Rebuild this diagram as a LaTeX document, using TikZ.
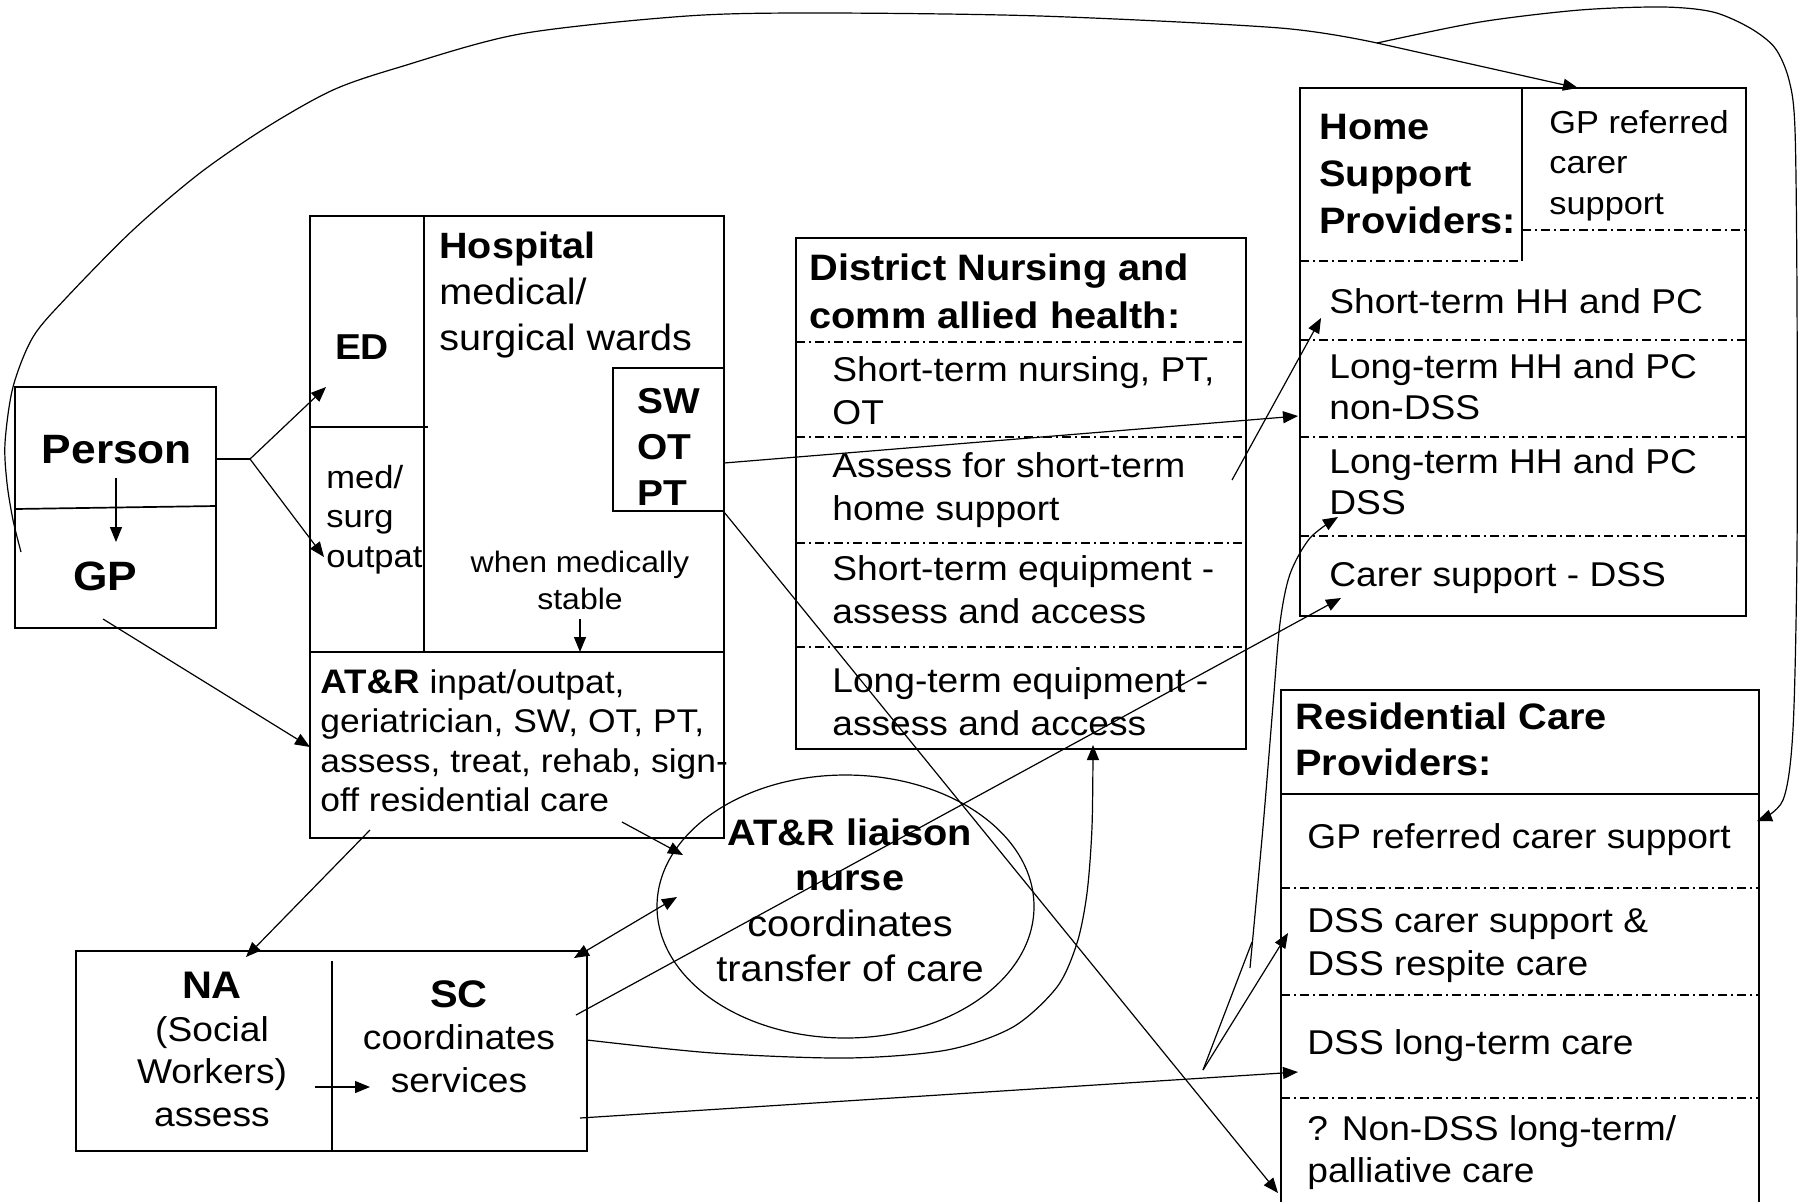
\documentclass[tikz,border=0pt]{standalone}
\usepackage{fontspec}
\setmainfont{Liberation Sans}[FakeStretch=1.08]
\usetikzlibrary{arrows.meta}
\newcommand\mystrut{\rule{0pt}{0.75em}}
\newcommand\fsz[2]{\fontsize{#1}{#2}\selectfont}
\begin{document}
\begin{tikzpicture}[x=0.5pt,y=-0.5pt,
  box/.style={draw,line width=0.85pt},
  dd/.style={line width=0.6pt,dash pattern=on 4.5pt off 2pt on 1pt off 2pt},
  lin/.style={line width=0.6pt},
  con/.style={line width=0.6pt,-{Triangle[length=7.5pt,width=6pt]}},
  dcon/.style={line width=0.6pt,{Triangle[length=7.5pt,width=6pt]}-{Triangle[length=7.5pt,width=6pt]}},
  txt/.style={inner sep=0pt,align=left,anchor=north west},
  ctxt/.style={inner sep=0pt,align=center,anchor=north},
  lbl/.style={inner sep=0pt,anchor=base},
]
\useasboundingbox (0,0) rectangle (1798,1201);

% ---------- boxes ----------
% Person / GP
\draw[box] (15,387) rectangle (216,628);
\draw[box] (15,509) -- (216,506);
% Hospital
\draw[box] (310,216) rectangle (724,838);
\draw[box] (424,216) -- (424,652);
\draw[box] (310,427) -- (428,427);
\draw[box] (310,652) -- (724,652);
\draw[box] (724,368) -- (613,368) -- (613,511) -- (724,511);
% District nursing
\draw[box] (796,238) rectangle (1246,749);
\foreach \yy in {342,437,543,647} \draw[dd] (796,\yy) -- (1246,\yy);
% Home support
\draw[box] (1300,88) rectangle (1746,616);
\draw[box] (1522,88) -- (1522,261);
\draw[dd] (1522,230) -- (1746,230);
\draw[dd] (1300,261) -- (1522,261);
\foreach \yy in {340,437,536} \draw[dd] (1300,\yy) -- (1746,\yy);
% Residential care
\draw[box] (1281,1210) -- (1281,690) -- (1759,690) -- (1759,1210);
\draw[box] (1281,794) -- (1759,794);
\foreach \yy in {888,995,1098} \draw[dd] (1281,\yy) -- (1759,\yy);
% NA / SC
\draw[box] (76,951) rectangle (587,1151);
\draw[box] (332,961) -- (332,1151);
% liaison ellipse
\draw[lin] (845.5,906.5) ellipse [x radius=94.25pt, y radius=65.75pt];

% ---------- texts ----------
\node[lbl,font=\bfseries\fsz{20.5}{24}] (person) at (117,463) {Person};
\node[lbl,font=\bfseries\fsz{20.5}{24}] (gp) at (105,590) {GP};
\node[lbl,font=\bfseries\fsz{18}{22}] (ed) at (362,359) {ED};
\node[txt,font=\fsz{18.3}{23}] (hosp) at (439,230.5) {\mystrut\textbf{Hospital}\\medical/\\surgical wards};
\node[txt,font=\bfseries\fsz{18}{23}] (swotpt) at (637,386) {\mystrut SW\\OT\\PT};
\node[txt,font=\fsz{16}{19.75}] (medsurg) at (326,464) {\mystrut med/\\surg\\outpat};
\node[ctxt,font=\fsz{14.8}{18.3}] (stable) at (580,550) {\mystrut when medically\\stable};
\node[txt,font=\fsz{16.4}{19.7}] (atr) at (320,668.4) {\mystrut{\fsz{17}{19.7}\bfseries AT\&R} inpat/outpat,\\geriatrician, SW, OT, PT,\\assess, treat, rehab, sign-\\off residential care};

\node[txt,font=\bfseries\fsz{18.4}{24}] (dnhead) at (809,252.4) {\mystrut District Nursing and\\comm allied health:};
\node[txt,font=\fsz{17.2}{21.5}] (dn1) at (832,355) {\mystrut Short-term nursing, PT,\\OT};
\node[txt,font=\fsz{17.2}{21.5}] (dn2) at (832,451) {\mystrut Assess for short-term\\home support};
\node[txt,font=\fsz{17.2}{21.5}] (dn3) at (832,554) {\mystrut Short-term equipment -\\assess and access};
\node[txt,font=\fsz{17.2}{21.5}] (dn4) at (832,666) {\mystrut Long-term equipment -\\assess and access};

\node[txt,font=\bfseries\fsz{18.4}{23.5}] (hshead) at (1319,111.4) {\mystrut Home\\Support\\Providers:};
\node[txt,font=\fsz{15.9}{20.3}] (hsgp) at (1549,109) {\mystrut GP referred\\carer\\support};
\node[txt,font=\fsz{17.2}{20.5}] (hs1) at (1329,287) {\mystrut Short-term HH and PC};
\node[txt,font=\fsz{17.2}{20.5}] (hs2) at (1329,352) {\mystrut Long-term HH and PC\\non-DSS};
\node[txt,font=\fsz{17.2}{20.5}] (hs3) at (1329,447) {\mystrut Long-term HH and PC\\DSS};
\node[txt,font=\fsz{17.2}{20.5}] (hs4) at (1329,560) {\mystrut Carer support - DSS};

\node[txt,font=\bfseries\fsz{18.4}{23}] (rchead) at (1295,701.4) {\mystrut Residential Care\\Providers:};
\node[txt,font=\fsz{17.2}{21.5}] (rc1) at (1307,822) {\mystrut GP referred carer support};
\node[txt,font=\fsz{17.2}{21.7}] (rc2) at (1307,906) {\mystrut DSS carer support \&\\DSS respite care};
\node[txt,font=\fsz{17.2}{21.5}] (rc3) at (1307,1028) {\mystrut DSS long-term care};
\node[txt,font=\fsz{17.2}{21.3}] (rc4) at (1307,1114) {\mystrut ? Non-DSS long-term/\\palliative care};

\node[lbl,font=\bfseries\fsz{19.2}{22}] (na) at (212,998) {NA};
\node[ctxt,font=\fsz{17.2}{21.25}] (natxt) at (212,1015) {\mystrut(Social\\Workers)\\assess};
\node[lbl,font=\bfseries\fsz{19.2}{22}] (sc) at (459,1007) {SC};
\node[ctxt,font=\fsz{17.2}{21.5}] (sctxt) at (459,1023) {\mystrut coordinates\\services};

\node[ctxt,font=\fsz{18.4}{22.75}] (liaison) at (850,817.4) {\mystrut\textbf{AT\&R liaison}\\\textbf{nurse}\\coordinates\\transfer of care};

% ---------- connector end points ----------
\coordinate (pR) at (216,459);
\coordinate (pfork) at (250,459);
\coordinate (edIn) at (326,387);
\coordinate (opIn) at (324,557);
\coordinate (pDown) at (116,478);
\coordinate (gpUp) at (116,542);
\coordinate (gpOut) at (103,619);
\coordinate (atrIn) at (310,747);
\coordinate (stOut) at (580,619);
\coordinate (stIn) at (580,652);
\coordinate (swOut) at (724,463);
\coordinate (hsNon) at (1298,416);
\coordinate (asOut) at (1232,480);
\coordinate (hsShort) at (1321,318);
\coordinate (ptOut) at (724,512);
\coordinate (rcNon) at (1278,1193);
\coordinate (atrOut) at (622,822);
\coordinate (liIn) at (683,855);
\coordinate (atrOut2) at (370,830);
\coordinate (naIn) at (246,957);
\coordinate (naOut) at (315,1087);
\coordinate (scIn) at (370,1087);
\coordinate (scTop) at (574,958);
\coordinate (liL) at (677,897);
\coordinate (scOut1) at (576,1015);
\coordinate (hsCarer) at (1341,598);
\coordinate (scOut2) at (580,1118);
\coordinate (rcLong) at (1298,1072);
\coordinate (rfork) at (1203,1070);
\coordinate (rcCarer) at (1288,933);
\coordinate (rjoin) at (1252,942);
\coordinate (hsDSS) at (1338,517);
\coordinate (gpCurve) at (21,552);
\coordinate (tfork) at (1377,43);
\coordinate (hsGP) at (1578,88);
\coordinate (rcGP) at (1757,821);

% ---------- connectors ----------
\draw[lin] (pR) -- (pfork);
\draw[con] (pfork) -- (edIn);
\draw[con] (pfork) -- (opIn);
\draw[con] (pDown) -- (gpUp);
\draw[con] (gpOut) -- (atrIn);
\draw[con] (stOut) -- (stIn);
\draw[con] (swOut) -- (hsNon);
\draw[con] (asOut) -- (hsShort);
\draw[con] (ptOut) -- (rcNon);
\draw[con] (atrOut) -- (liIn);
\draw[con] (atrOut2) -- (naIn);
\draw[con] (naOut) -- (scIn);
\draw[dcon] (scTop) -- (liL);
\draw[con] (scOut1) -- (hsCarer);
\draw[con] (scOut2) -- (rcLong);
\draw[con] (rfork) -- (rcCarer);
\draw[lin] (rfork) -- (rjoin);
\draw[con] plot[smooth] coordinates {(587,1040) (713,1053) (847,1058) (947,1050) (1013,1027) (1057,987) (1077,943) (1087,893) (1092,827) (1093,745)};
\draw[con] plot[smooth] coordinates {(1250,968) (1263,827) (1273,705) (1280,623) (1290,574) (1310,538) (1338,517)};
\draw[con] plot[smooth] coordinates {(21,552) (13,520) (7,483) (5,443) (13,387) (33,337) (67,297) (133,230) (200,173) (267,127) (333,90) (400,67) (520,34) (687,16) (820,13) (1040,16) (1280,28) (1377,43)} -- (hsGP);
\draw[con] plot[smooth] coordinates {(1377,43) (1480,22) (1580,10) (1663,7) (1713,12) (1750,28) (1775,48) (1789,80) (1795,130) (1797,300) (1797,550) (1793,729) (1783,800) (1757,821)};
\end{tikzpicture}
\end{document}
